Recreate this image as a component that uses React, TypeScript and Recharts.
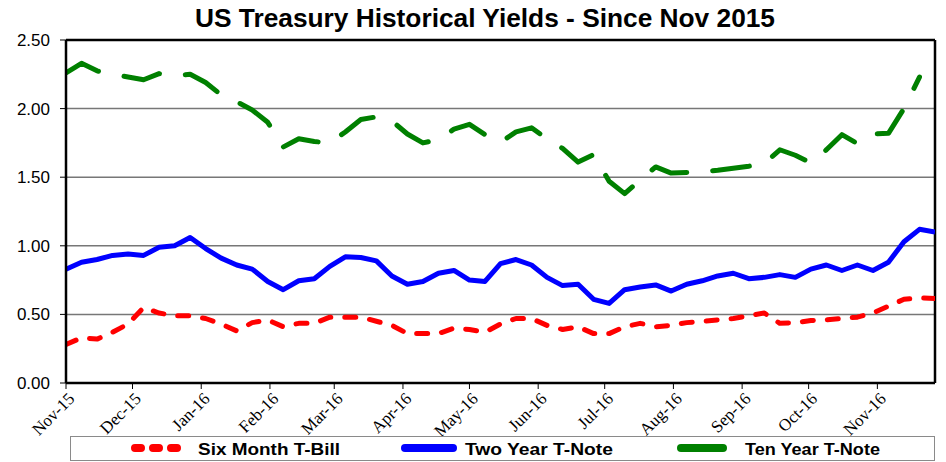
import React from "react";
import {
  CartesianGrid,
  Legend,
  Line,
  LineChart,
  ReferenceLine,
  XAxis,
  YAxis,
} from "recharts";

// weekly observations, first one on this date
const startDate = "2015-11-06";

const monthLabels = [
  "Nov-15", "Dec-15", "Jan-16", "Feb-16", "Mar-16", "Apr-16", "May-16",
  "Jun-16", "Jul-16", "Aug-16", "Sep-16", "Oct-16", "Nov-16",
];

const yTicks = [0, 0.5, 1, 1.5, 2, 2.5];

const seriesNames = ["Six Month T-Bill", "Two Year T-Note", "Ten Year T-Note"];

const sixMonthBill = [
  0.28, 0.33, 0.32, 0.37, 0.43, 0.55, 0.51, 0.49, 0.49, 0.47,
  0.43, 0.38, 0.44, 0.46, 0.41, 0.435, 0.435, 0.48, 0.48, 0.48,
  0.45, 0.42, 0.36, 0.36, 0.36, 0.4, 0.39, 0.37, 0.43, 0.47,
  0.47, 0.42, 0.39, 0.41, 0.36, 0.36, 0.41, 0.435, 0.41, 0.42,
  0.44, 0.45, 0.46, 0.47, 0.49, 0.51, 0.435, 0.44, 0.455, 0.46,
  0.47, 0.48, 0.51, 0.56, 0.61, 0.62, 0.615,
];

const twoYearNote = [
  0.83, 0.88, 0.9, 0.93, 0.94, 0.93, 0.99, 1.0, 1.06, 0.98,
  0.91, 0.86, 0.83, 0.74, 0.68, 0.745, 0.76, 0.85, 0.92, 0.915,
  0.89, 0.78, 0.72, 0.74, 0.8, 0.82, 0.75, 0.74, 0.87, 0.9,
  0.86, 0.77, 0.71, 0.72, 0.61, 0.58, 0.68, 0.7, 0.715, 0.67,
  0.72, 0.745, 0.78, 0.8, 0.76, 0.77, 0.79, 0.77, 0.83, 0.86,
  0.82, 0.86, 0.82, 0.88, 1.03, 1.12, 1.1,
];

const tenYearNote = [
  2.26, 2.33, 2.275, 2.25, 2.23, 2.21, 2.255, 2.24, 2.25, 2.19,
  2.1, 2.05, 1.99, 1.9, 1.72, 1.78, 1.76, 1.75, 1.83, 1.92,
  1.94, 1.91, 1.815, 1.75, 1.775, 1.85, 1.885, 1.81, 1.755, 1.83,
  1.86, 1.78, 1.71, 1.61, 1.665, 1.47, 1.38, 1.48, 1.575, 1.53,
  1.535, 1.54, 1.55, 1.565, 1.58, 1.6, 1.7, 1.66, 1.605, 1.7,
  1.81, 1.745, 1.815, 1.82, 2.0, 2.23, null,
];

const DAY = 86400000;
const t0 = Date.parse(startDate);

const data = sixMonthBill.map((v, i) => ({
  day: i * 7,
  six: v,
  two: twoYearNote[i],
  ten: tenYearNote[i],
}));

const monthTicks = monthLabels.map((_, k) => {
  const d = new Date(t0);
  d.setUTCMonth(d.getUTCMonth() + k);
  return Math.round((d.getTime() - t0) / DAY);
});

const lastDay = data[data.length - 1].day;

const MonthTick = (props: any) => {
  const { x, y, payload } = props;
  const idx = monthTicks.indexOf(payload.value);
  return (
    <g transform={`translate(${x + 3},${y + 2})`}>
      <text
        transform="rotate(-45)"
        textAnchor="end"
        dy="0.55em"
        fontFamily="'Liberation Serif', 'Times New Roman', serif"
        fontSize={17}
        fill="#000"
      >
        {monthLabels[idx]}
      </text>
    </g>
  );
};

const legendLayout = [
  { sample: 60, sampleW: 64, text: 128, textW: 142, color: "#ff0000", dash: "6 12" },
  { sample: 330, sampleW: 58, text: 395, textW: 148, color: "#0000ff", dash: undefined },
  { sample: 606, sampleW: 52, text: 675, textW: 135, color: "#008000", dash: undefined },
];

const LegendBox = () => (
  <svg width={865} height={25} style={{ display: "block" }}>
    <rect x={0.5} y={0.5} width={864} height={24} fill="#fff" stroke="#8a8a8a" />
    {legendLayout.map((it, i) => (
      <g key={i}>
        <line
          x1={it.sample + 5}
          x2={it.sample + it.sampleW - 5}
          y1={12}
          y2={12}
          stroke={it.color}
          strokeWidth={8}
          strokeLinecap="round"
          strokeDasharray={it.dash}
        />
        <text
          x={it.text}
          y={18.5}
          fontFamily="'Liberation Sans', Arial, sans-serif"
          fontWeight="bold"
          fontSize={17}
          textLength={it.textW}
          lengthAdjust="spacingAndGlyphs"
          fill="#000"
        >
          {seriesNames[i]}
        </text>
      </g>
    ))}
  </svg>
);

export default function App() {
  return (
    <div
      style={{
        position: "absolute",
        left: 0,
        top: 0,
        width: 946,
        height: 462,
        background: "#fff",
      }}
    >
      <svg
        width={946}
        height={36}
        style={{ position: "absolute", left: 0, top: 0 }}
      >
        <text
          x={485}
          y={27}
          textAnchor="middle"
          fontFamily="'Liberation Sans', Arial, sans-serif"
          fontWeight="bold"
          fontSize={25}
          textLength={580}
          lengthAdjust="spacingAndGlyphs"
          fill="#000"
        >
          US Treasury Historical Yields - Since Nov 2015
        </text>
      </svg>
      <LineChart
        width={946}
        height={462}
        data={data}
        margin={{ top: 40, right: 11, left: 0, bottom: 8 }}
      >
        <CartesianGrid horizontal vertical={false} stroke="#777" strokeWidth={1.5} />
        <XAxis
          dataKey="day"
          type="number"
          domain={[0, lastDay]}
          ticks={monthTicks}
          interval={0}
          tick={<MonthTick />}
          tickSize={6}
          tickMargin={2}
          height={45}
          axisLine={{ stroke: "#000", strokeWidth: 2.5 }}
          tickLine={{ stroke: "#000", strokeWidth: 1 }}
          allowDataOverflow
        />
        <YAxis
          domain={[0, 2.5]}
          ticks={yTicks}
          width={66}
          tickSize={6}
          tickMargin={10}
          tickFormatter={(v: number) => v.toFixed(2)}
          tick={{
            fill: "#000",
            fontSize: 17,
            fontFamily: "'Liberation Sans', Arial, sans-serif",
          }}
          axisLine={{ stroke: "#000", strokeWidth: 2.5 }}
          tickLine={{ stroke: "#000", strokeWidth: 1 }}
        />
        <ReferenceLine y={2.5} stroke="#000" strokeWidth={2.5} />
        <ReferenceLine x={lastDay} stroke="#000" strokeWidth={2.5} />
        <Line
          dataKey="six"
          name={seriesNames[0]}
          stroke="#ff0000"
          strokeWidth={5}
          strokeDasharray="11 14"
          strokeLinecap="round"
          strokeLinejoin="round"
          dot={false}
          type="linear"
          isAnimationActive={false}
        />
        <Line
          dataKey="two"
          name={seriesNames[1]}
          stroke="#0000ff"
          strokeWidth={5}
          strokeLinejoin="round"
          dot={false}
          type="linear"
          isAnimationActive={false}
        />
        <Line
          dataKey="ten"
          name={seriesNames[2]}
          stroke="#008000"
          strokeWidth={5}
          strokeDasharray="37 26"
          strokeLinecap="round"
          strokeLinejoin="round"
          dot={false}
          type="linear"
          isAnimationActive={false}
        />
        <Legend
          height={26}
          content={<LegendBox />}
          wrapperStyle={{ left: 70, top: 436, width: 865 }}
        />
      </LineChart>
    </div>
  );
}
